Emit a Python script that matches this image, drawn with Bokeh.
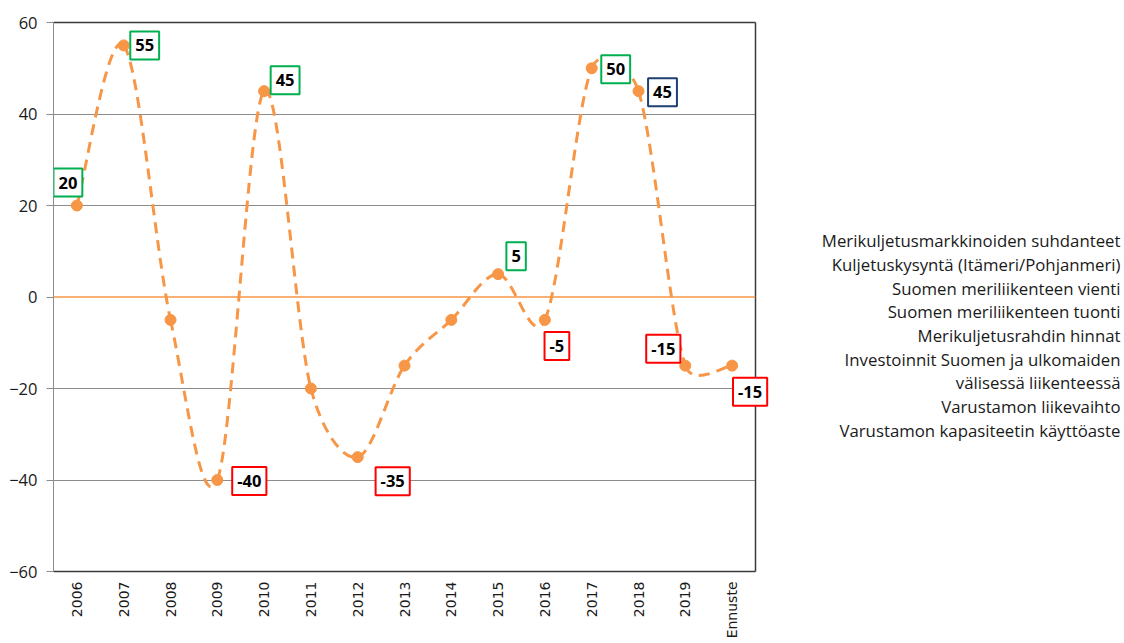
import math
from bokeh.plotting import figure
from bokeh.models import Range1d, FixedTicker, Label, Span, LinearAxis
from bokeh.embed import file_html
from bokeh.resources import INLINE

# ---------------- data ----------------
categories = ["2006", "2007", "2008", "2009", "2010", "2011", "2012", "2013",
              "2014", "2015", "2016", "2017", "2018", "2019", "Ennuste"]
values = [20, 55, -5, -40, 45, -20, -35, -15, -5, 5, -5, 50, 45, -15, -15]
y_ticks = [-60, -40, -20, 0, 20, 40, 60]

# labelled points and the kind of box (up = green, down = red, neutral = blue)
label_years = ["2006", "2007", "2009", "2010", "2012", "2015", "2016",
               "2017", "2018", "2019", "Ennuste"]
label_kinds = ["up", "up", "down", "up", "down", "up", "down",
               "up", "neutral", "down", "down"]

legend_lines = [
    "Merikuljetusmarkkinoiden suhdanteet",
    "Kuljetuskysyntä (Itämeri/Pohjanmeri)",
    "Suomen meriliikenteen vienti",
    "Suomen meriliikenteen tuonti",
    "Merikuljetusrahdin hinnat",
    "Investoinnit Suomen ja ulkomaiden",
    "välisessä liikenteessä",
    "Varustamon liikevaihto",
    "Varustamon kapasiteetin käyttöaste",
]

# ---------------- layout / styles ----------------
W, H = 1124, 643
FRAME_L, FRAME_T, FRAME_R, FRAME_B = 53, 22, 755, 571
ORANGE = "#F79646"
GRID = "#8c8c8c"
DARK = "#3a3a3a"
TEXT = "#1a1a1a"
KIND_COLOR = {"up": "#00B050", "down": "#FF0000", "neutral": "#1F3F73"}
# box offsets from their point, in screen pixels (right, down)
LABEL_OFFSETS = {
    "2006": (-9, -23), "2007": (21, 0), "2009": (32, 1), "2010": (21, -11),
    "2012": (35, 24), "2015": (18, -18), "2016": (12, 26), "2017": (24, 1),
    "2018": (24, 1), "2019": (-22, -17), "Ennuste": (18, 26),
}

xs = list(range(len(categories)))
x_lo, x_hi = -0.5, len(categories) - 0.5
y_lo, y_hi = y_ticks[0], y_ticks[-1]
px_x = (FRAME_R - FRAME_L) / (x_hi - x_lo)   # pixels per x unit
px_y = (FRAME_B - FRAME_T) / (y_hi - y_lo)   # pixels per y unit

p = figure(width=W, height=H,
           x_range=Range1d(x_lo, x_hi), y_range=Range1d(y_lo, y_hi),
           output_backend="svg", toolbar_location=None,
           min_border_left=FRAME_L, min_border_right=W - FRAME_R,
           min_border_top=FRAME_T, min_border_bottom=H - FRAME_B)
p.background_fill_color = "white"
p.border_fill_color = "white"
p.outline_line_color = None

# axes
p.yaxis.ticker = FixedTicker(ticks=y_ticks)
p.yaxis.axis_line_color = GRID
p.yaxis.major_tick_line_color = GRID
p.yaxis.major_tick_out = 7
p.yaxis.major_tick_in = 0
p.yaxis.minor_tick_line_color = None
p.yaxis.major_label_standoff = 9
p.yaxis.major_label_text_font = "Open Sans"
p.yaxis.major_label_text_font_size = "16.5px"
p.yaxis.major_label_text_color = TEXT

p.xaxis.ticker = FixedTicker(ticks=xs)
p.xaxis.major_label_overrides = {i: c for i, c in zip(xs, categories)}
p.xaxis.major_label_orientation = math.pi / 2
p.xaxis.major_tick_line_color = None
p.xaxis.major_tick_out = 0
p.xaxis.major_tick_in = 0
p.xaxis.minor_tick_line_color = None
p.xaxis.axis_line_color = DARK
p.xaxis.axis_line_width = 1.5
p.xaxis.major_label_standoff = 10
p.xaxis.major_label_text_font = "DejaVu Sans"
p.xaxis.major_label_text_font_size = "14px"
p.xaxis.major_label_text_color = TEXT

for side in ("above", "right"):
    ax = LinearAxis(ticker=FixedTicker(ticks=[]), axis_line_color=DARK,
                    axis_line_width=1.5, major_tick_out=0, major_tick_in=0,
                    minor_tick_out=0, minor_tick_in=0,
                    major_tick_line_color=None, minor_tick_line_color=None)
    p.add_layout(ax, side)

# grid
p.xgrid.visible = False
p.ygrid.ticker = FixedTicker(ticks=[t for t in y_ticks if t not in (0, y_lo, y_hi)])
p.ygrid.grid_line_color = GRID
p.ygrid.grid_line_width = 1
p.add_layout(Span(location=0, dimension="width", line_color=ORANGE, line_width=1.5))

# smoothed line: Bezier segments through the data points (Excel-like smoothing,
# control handles limited to half of the segment length on screen)
def dist(a, b):
    return math.hypot((b[0] - a[0]) * px_x, (b[1] - a[1]) * px_y)

pts = list(zip(xs, values))
n = len(pts)
seg = {k: [] for k in ("x0", "y0", "x1", "y1", "cx0", "cy0", "cx1", "cy1")}
for i in range(n - 1):
    P0 = pts[max(i - 1, 0)]
    P1 = pts[i]
    P2 = pts[i + 1]
    P3 = pts[min(i + 2, n - 1)]
    d12, d02, d13 = dist(P1, P2), dist(P0, P2), dist(P1, P3)
    f0 = 1 / 6 if d02 / 6 < d12 / 2 else d12 / (2 * d02)
    f1 = 1 / 6 if d13 / 6 < d12 / 2 else d12 / (2 * d13)
    seg["x0"].append(P1[0]); seg["y0"].append(P1[1])
    seg["x1"].append(P2[0]); seg["y1"].append(P2[1])
    seg["cx0"].append(P1[0] + f0 * (P2[0] - P0[0]))
    seg["cy0"].append(P1[1] + f0 * (P2[1] - P0[1]))
    seg["cx1"].append(P2[0] - f1 * (P3[0] - P1[0]))
    seg["cy1"].append(P2[1] - f1 * (P3[1] - P1[1]))
p.bezier(line_color=ORANGE, line_width=3, line_dash="11 7", **seg)

p.scatter(x=xs, y=values, size=11, color=ORANGE, line_color=ORANGE)

# value boxes
for year, kind in zip(label_years, label_kinds):
    i = categories.index(year)
    dx, dy = LABEL_OFFSETS[year]
    lab = Label(x=xs[i], y=values[i], text=str(values[i]),
                x_offset=dx, y_offset=-dy,
                text_align="center", text_baseline="middle",
                text_font="Open Sans", text_font_style="bold",
                text_font_size="16.5px", text_color="black",
                background_fill_color="white",
                border_line_color=KIND_COLOR[kind], border_line_width=2,
                padding=(5, 5, 8, 8))
    # the last box overhangs the right border of the plot area
    p.add_layout(lab, "right" if i == n - 1 else "center")

# right-hand text list (one multi-line text block)
legend_font_px = 16.8
legend_line_px = 23.6
legend_center_px = 335
p.add_layout(Label(x=x_lo + (1120 - FRAME_L) / px_x,
                   y=y_hi - (legend_center_px - FRAME_T) / px_y,
                   text="\n".join(legend_lines),
                   text_align="right", text_baseline="middle",
                   text_line_height=legend_line_px / (legend_font_px * 1.362),
                   text_font="Open Sans", text_font_size=f"{legend_font_px}px",
                   text_color=TEXT), "right")

open("out.html", "w").write(file_html(p, INLINE))
